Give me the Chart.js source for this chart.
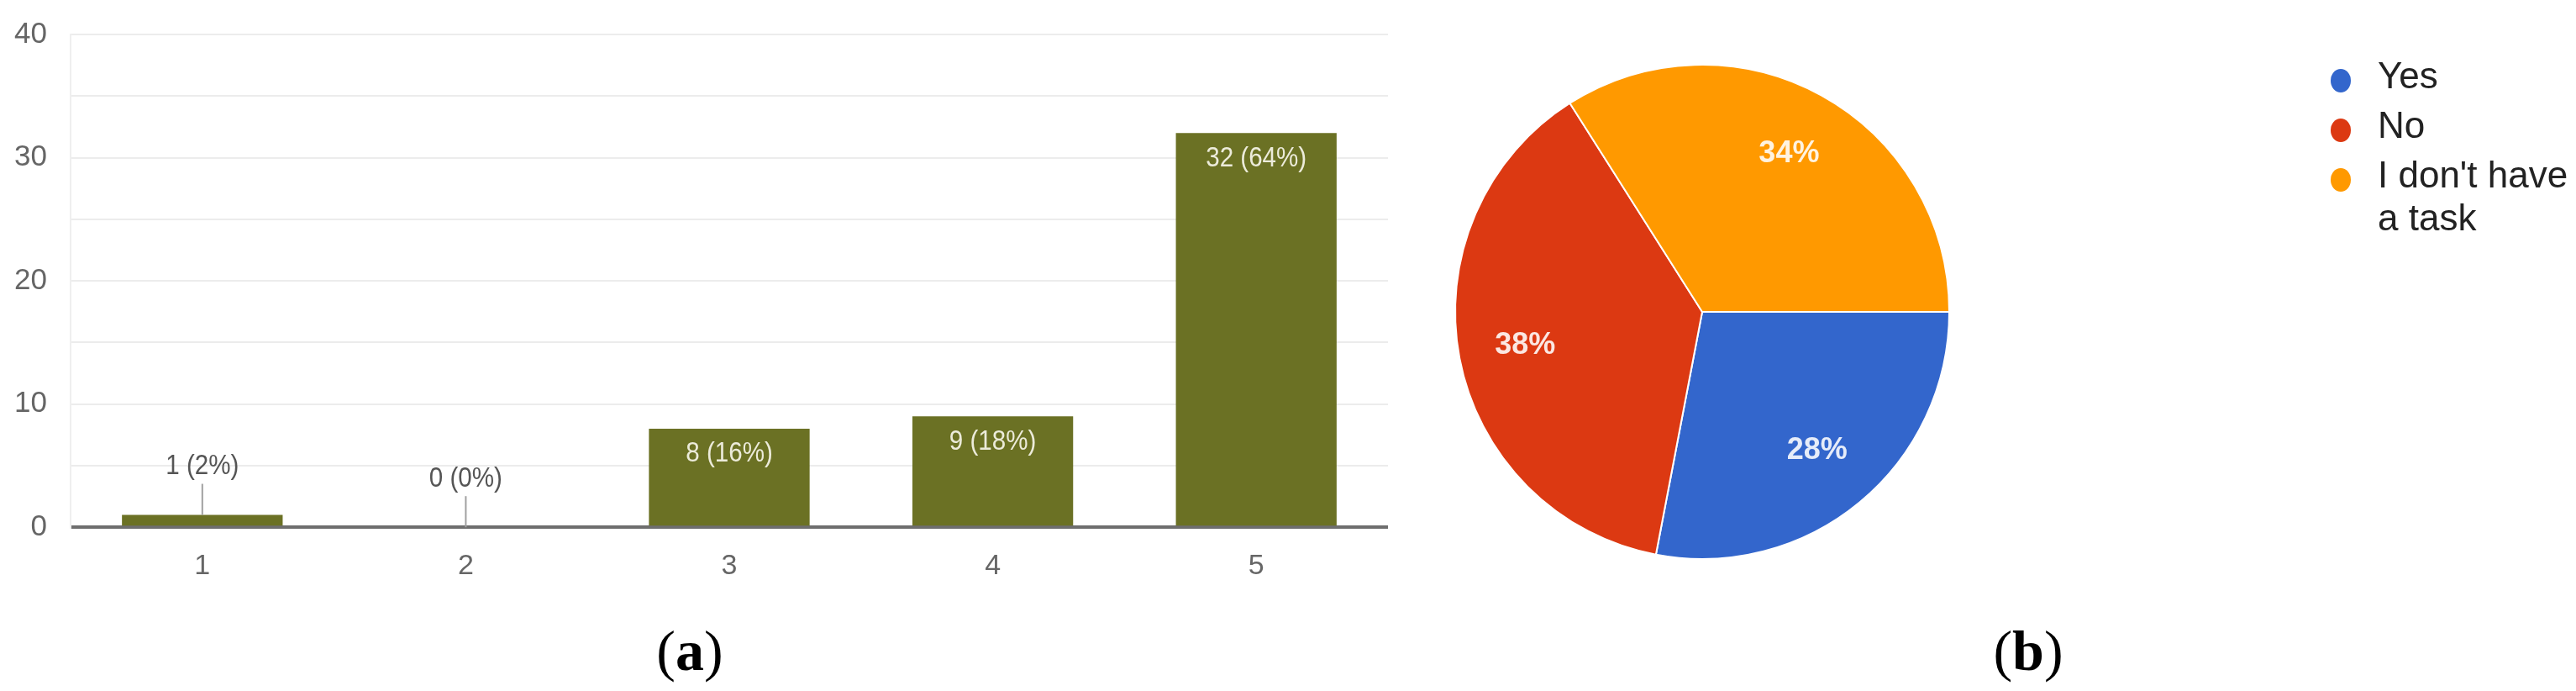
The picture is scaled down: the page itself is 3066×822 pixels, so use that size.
<!DOCTYPE html>
<html>
<head>
<meta charset="utf-8">
<script src="https://cdn.jsdelivr.net/npm/chart.js@4.4.1/dist/chart.umd.min.js"></script>
<style>
    html, body { margin: 0; padding: 0; background: #fff; }
    body { width: 3066px; height: 822px; position: relative; overflow: hidden; }
    #bar { position: absolute; left: 0; top: 0; }
    #pie { position: absolute; left: 1700px; top: 0; }
    .cap {
        position: absolute; top: 735px; line-height: 78px;
        font-family: 'Liberation Serif', 'DejaVu Serif', serif;
        font-size: 68px; color: #000; transform: translateX(-50%);
    }
</style>
</head>
<body>
<canvas id="bar" width="1680" height="720"></canvas>
<canvas id="pie" width="1366" height="740"></canvas>
<div class="cap" style="left:821px">(<b>a</b>)</div>
<div class="cap" style="left:2414px">(<b>b</b>)</div>

<script>
const ratings = ['1', '2', '3', '4', '5'];
const responses = [1, 0, 8, 9, 32];
const responseShares = [2, 0, 16, 18, 64];

const answers = ['Yes', 'No', "I don't have a task"];
const answerShares = [28, 38, 34];

const sans = '"Liberation Sans", Arial, sans-serif';

// the source screenshot is squeezed sideways, so the value labels are drawn a bit narrow
function narrowText(ctx, text, x, y) {
    ctx.save();
    ctx.translate(x, y);
    ctx.scale(0.87, 1);
    ctx.fillText(text, 0, 0);
    ctx.restore();
}

// value labels: inside the bar when it is tall enough, otherwise above with a leader line
const barLabels = {
    id: 'barLabels',
    afterDatasetsDraw(chart) {
        const ctx = chart.ctx;
        const meta = chart.getDatasetMeta(0);
        ctx.save();
        ctx.font = '34px ' + sans;
        ctx.textAlign = 'center';
        ctx.textBaseline = 'middle';
        meta.data.forEach((bar, i) => {
            const text = responses[i] + ' (' + responseShares[i] + '%)';
            if (responses[i] >= 5) {
                ctx.fillStyle = '#ecebda';
                narrowText(ctx, text, bar.x, bar.y + 30);
            } else {
                ctx.strokeStyle = '#a0a0a0';
                ctx.lineWidth = 2;
                ctx.beginPath();
                ctx.moveTo(bar.x, bar.y - 37);
                ctx.lineTo(bar.x, bar.y);
                ctx.stroke();
                ctx.fillStyle = '#555';
                narrowText(ctx, text, bar.x, bar.y - 58);
            }
        });
        ctx.restore();
    }
};

new Chart(document.getElementById('bar'), {
    type: 'bar',
    data: {
        labels: ratings,
        datasets: [{
            data: responses,
            backgroundColor: '#6b7124',
            barPercentage: 0.61,
            categoryPercentage: 1
        }]
    },
    options: {
        responsive: false,
        animation: false,
        layout: { padding: { top: 41, right: 28, bottom: 0, left: 0 } },
        plugins: {
            legend: { display: false },
            tooltip: { enabled: false }
        },
        scales: {
            x: {
                grid: { display: false, drawTicks: false },
                border: { display: false },
                ticks: { color: '#666', padding: 26, font: { family: sans, size: 34 } }
            },
            y: {
                min: 0,
                max: 40,
                ticks: {
                    stepSize: 5,
                    padding: 16,
                    color: '#666',
                    font: { family: sans, size: 35 },
                    callback: v => v % 10 === 0 ? v : ''
                },
                grid: {
                    tickLength: 12,
                    tickColor: 'rgba(0,0,0,0)',
                    color: c => c.tick.value === 0 ? '#6e6e6e' : '#ececec',
                    lineWidth: c => c.tick.value === 0 ? 4 : 2
                },
                border: { color: '#efefef', width: 2 },
                afterFit: s => { s.width = 84; }
            }
        }
    },
    plugins: [barLabels]
});

// percentages written on the slices
const pieLabels = {
    id: 'pieLabels',
    afterDatasetsDraw(chart) {
        const ctx = chart.ctx;
        const meta = chart.getDatasetMeta(0);
        ctx.save();
        ctx.font = 'bold 36px ' + sans;
        ctx.textAlign = 'center';
        ctx.textBaseline = 'middle';
        ctx.fillStyle = 'rgba(255,255,255,0.88)';
        meta.data.forEach((arc, i) => {
            const p = arc.getProps(['x', 'y', 'startAngle', 'endAngle', 'outerRadius'], true);
            const mid = (p.startAngle + p.endAngle) / 2;
            const r = p.outerRadius * 0.73;
            ctx.fillText(answerShares[i] + '%', p.x + Math.cos(mid) * r, p.y + Math.sin(mid) * r);
        });
        ctx.restore();
    }
};

// legend to the right of the pie, long labels wrapped
const pieLegend = {
    id: 'pieLegend',
    afterDraw(chart) {
        const ctx = chart.ctx;
        const ds = chart.data.datasets[0];
        ctx.save();
        ctx.font = '44px ' + sans;
        ctx.textBaseline = 'middle';
        let y = 93;
        chart.data.labels.forEach((label, i) => {
            const lines = [];
            let line = '';
            label.split(' ').forEach(w => {
                const test = line ? line + ' ' + w : w;
                if (line && ctx.measureText(test).width > 240) {
                    lines.push(line);
                    line = w;
                } else {
                    line = test;
                }
            });
            lines.push(line);

            ctx.fillStyle = ds.backgroundColor[i];
            ctx.beginPath();
            ctx.ellipse(1086, y + 3, 12, 14, 0, 0, Math.PI * 2);
            ctx.fill();

            ctx.fillStyle = '#222';
            lines.forEach((t, k) => ctx.fillText(t, 1130, y + k * 51));
            y += (lines.length - 1) * 51 + 59;
        });
        ctx.restore();
    }
};

new Chart(document.getElementById('pie'), {
    type: 'pie',
    data: {
        labels: answers,
        datasets: [{
            data: answerShares,
            backgroundColor: ['#3366cc', '#dc3912', '#ff9900'],
            borderColor: '#ffffff',
            borderWidth: 2
        }]
    },
    options: {
        responsive: false,
        animation: false,
        rotation: 90,
        layout: { padding: { left: 31, top: 76, right: 745, bottom: 74 } },
        plugins: {
            legend: { display: false },
            tooltip: { enabled: false }
        }
    },
    plugins: [pieLabels, pieLegend]
});
</script>
</body>
</html>
